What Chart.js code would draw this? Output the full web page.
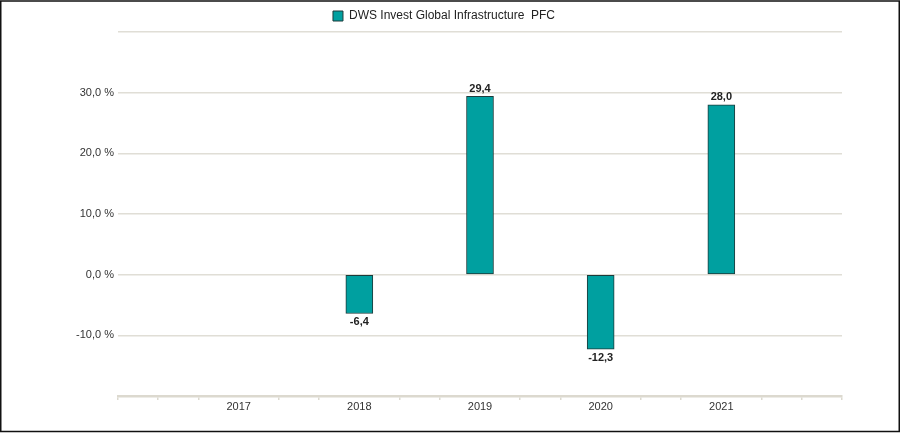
<!DOCTYPE html>
<html>
<head>
<meta charset="utf-8">
<script src="https://cdn.jsdelivr.net/npm/chart.js@4/dist/chart.umd.min.js"></script>
<style>
  html, body { margin: 0; padding: 0; background: #fff; }
  #wrap { width: 901px; height: 433px; position: relative; }
</style>
</head>
<body>
<div id="wrap"><canvas id="chart" width="901" height="433"></canvas></div>
<script>
// years shown on the x axis
var categories = ['2017', '2018', '2019', '2020', '2021'];
// yearly performance in %
var values = [null, -6.4, 29.4, -12.3, 28.0];
// y axis range / steps
var yTicks = [-20, -10, 0, 10, 20, 30, 40];
var seriesName = 'DWS Invest Global Infrastructure  PFC';

// each year sits on every 3rd small tick of the axis
var points = [];
for (var i = 0; i < categories.length; i++) {
    if (values[i] !== null) points.push({x: (i + 1) * 3, y: values[i]});
}

function fmt(v) {
    return v.toFixed(1).replace('.', ',');
}

// value labels above / below the bars
var barLabels = {
    id: 'barLabels',
    afterDatasetsDraw: function(chart) {
        var ctx = chart.ctx;
        var meta = chart.getDatasetMeta(0);
        ctx.save();
        ctx.font = 'bold 11px "Liberation Sans", Arial, sans-serif';
        ctx.fillStyle = '#222';
        ctx.textAlign = 'center';
        meta.data.forEach(function(bar, idx) {
            var v = points[idx].y;
            if (v >= 0) {
                ctx.textBaseline = 'bottom';
                ctx.fillText(fmt(v), bar.x, bar.y - 2);
            } else {
                ctx.textBaseline = 'top';
                ctx.fillText(fmt(v), bar.x, bar.y + 3);
            }
        });
        ctx.restore();
    }
};

// black frame round the picture
var frame = {
    id: 'frame',
    afterDraw: function(chart) {
        var ctx = chart.ctx;
        ctx.save();
        ctx.strokeStyle = '#111';
        ctx.lineWidth = 1.5;
        ctx.strokeRect(0.75, 1, chart.width - 2.5, chart.height - 2.5);
        ctx.restore();
    }
};

var ctx = document.getElementById('chart').getContext('2d');
var chart = new Chart(ctx, {
    type: 'bar',
    data: {
        datasets: [{
            label: seriesName,
            data: points,
            backgroundColor: '#00a0a0',
            borderColor: '#1d3b3b',
            borderWidth: 1,
            borderSkipped: false,
            barThickness: 27
        }]
    },
    options: {
        responsive: false,
        animation: false,
        layout: { padding: { left: 46, right: 59, top: 2, bottom: 0 } },
        plugins: {
            legend: {
                labels: {
                    boxWidth: 10,
                    boxHeight: 10,
                    color: '#222',
                    padding: 8,
                    font: { family: '"Liberation Sans", Arial, sans-serif', size: 12 }
                }
            },
            tooltip: { enabled: false }
        },
        scales: {
            x: {
                type: 'linear',
                offset: false,
                min: 0,
                max: 18,
                ticks: {
                    stepSize: 1,
                    autoSkip: false,
                    maxRotation: 0,
                    padding: 0,
                    color: '#333',
                    font: { family: '"Liberation Sans", Arial, sans-serif', size: 11 },
                    callback: function(v) {
                        if (v % 3 === 0 && v >= 3 && v <= 15) return categories[v / 3 - 1];
                        return '';
                    }
                },
                grid: {
                    offset: false,
                    drawOnChartArea: false,
                    drawTicks: true,
                    tickLength: 4,
                    lineWidth: 1.5,
                    color: function(c) {
                        var v = c.tick ? c.tick.value : 0;
                        return (v % 3 === 0 && v >= 3 && v <= 15) ? 'rgba(0,0,0,0)' : '#dcd9cf';
                    }
                },
                border: { display: true, color: '#dcd9cf', width: 2.5 },
                afterFit: function(s) { s.height = 37; }
            },
            y: {
                min: yTicks[0],
                max: yTicks[yTicks.length - 1],
                afterBuildTicks: function(s) {
                    s.ticks = yTicks.map(function(v) { return {value: v}; });
                },
                ticks: {
                    padding: 4,
                    color: '#333',
                    font: { family: '"Liberation Sans", Arial, sans-serif', size: 11 },
                    callback: function(v) {
                        if (v === yTicks[0] || v === yTicks[yTicks.length - 1]) return '';
                        return fmt(v) + ' %';
                    }
                },
                grid: {
                    drawTicks: false,
                    color: '#e0ded6',
                    lineWidth: 1.5
                },
                border: { display: false },
                afterFit: function(s) { s.width = 72; }
            }
        }
    },
    plugins: [barLabels, frame]
});
</script>
</body>
</html>
